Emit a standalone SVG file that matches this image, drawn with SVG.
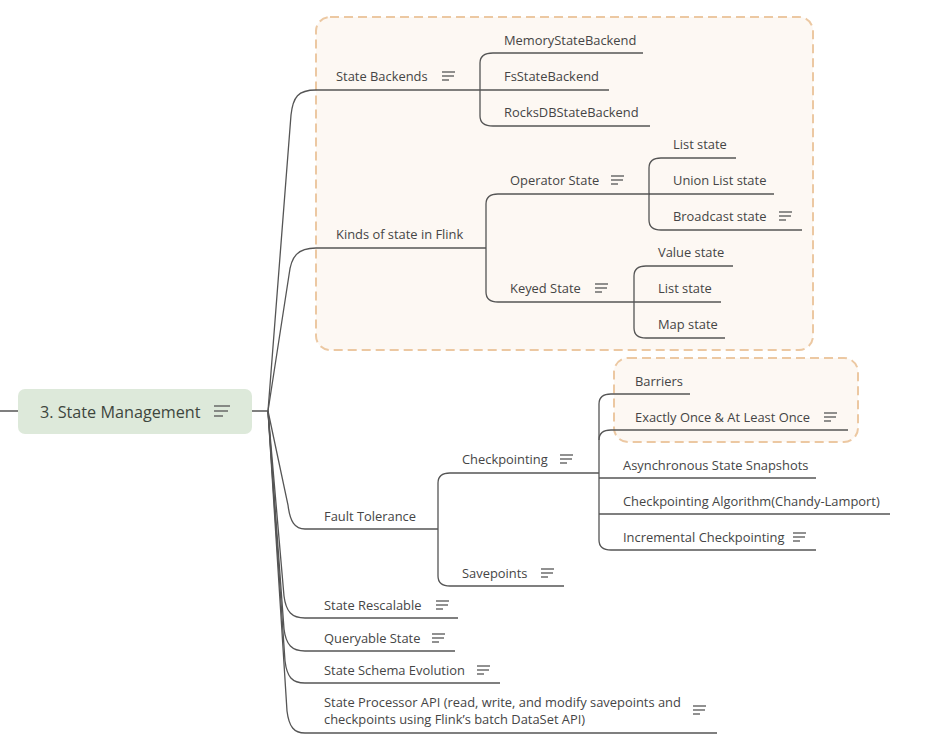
<svg xmlns="http://www.w3.org/2000/svg" xmlns:xlink="http://www.w3.org/1999/xlink" width="941" height="749" viewBox="0 0 941 749">
<defs>
<style>
.t{font-family:"Open Sans","DejaVu Sans",sans-serif;font-size:12.9px;fill:#454545}
.c{fill:none;stroke:#555;stroke-width:1.3}
.box{fill:#fdf8f3;stroke:#ecc8a2;stroke-width:2;stroke-dasharray:9 5}
.ic{stroke:#555;stroke-width:1.3}
</style>
<g id="note" class="ic"><line x1="0" y1="0" x2="13" y2="0"/><line x1="0" y1="4" x2="12" y2="4"/><line x1="0" y1="8" x2="7" y2="8"/></g>
</defs>
<rect width="941" height="749" fill="#ffffff"/>
<rect class="box" x="316" y="17" width="497" height="333" rx="14"/>
<rect class="box" x="614" y="358" width="244" height="84" rx="14"/>
<g id="connectors">
<path class="c" d="M0,411 L18,411 M252,411 L268,411"/>
<path class="c" d="M268,411 L291,115 C293,97 298,90 316,90 L480,90"/>
<path class="c" d="M268,411 L289,275 C291,256 298,248 316,248 L486,248"/>
<path class="c" d="M268,411 L288,505 C290,522 295,529 305,529 L438,529"/>
<path class="c" d="M268,411 L284,596 C286,612 292,618 305,618 L458,618"/>
<path class="c" d="M268,411 L284,629 C286,645 292,651 305,651 L455,651"/>
<path class="c" d="M268,411 L285,661 C287,677 292,683 305,683 L500,683"/>
<path class="c" d="M268,411 L287,711 C289,727 294,733 305,733 L717,733"/>
<path class="c" d="M493,53 Q480,53 480,63 L480,116 Q480,126 493,126"/>
<path class="c" d="M493,53 L643,53 M480,90 L609,90 M493,126 L650,126"/>
<path class="c" d="M498,194 Q486,194 486,204 L486,292 Q486,302 498,302"/>
<path class="c" d="M498,194 L650,194 M498,302 L634,302"/>
<path class="c" d="M661,158 Q649,158 649,168 L649,220 Q649,230 661,230"/>
<path class="c" d="M661,158 L736,158 M649,194 L774,194 M661,230 L802,230"/>
<path class="c" d="M646,266 Q634,266 634,276 L634,328 Q634,338 646,338"/>
<path class="c" d="M646,266 L733,266 M634,302 L721,302 M646,338 L725,338"/>
<path class="c" d="M450,473 Q438,473 438,483 L438,576 Q438,586 450,586"/>
<path class="c" d="M450,473 L599,473 M450,586 L564,586"/>
<path class="c" d="M611,394 Q599,394 599,404 L599,540 Q599,550 611,550"/>
<path class="c" d="M599,440 Q599,430 611,430"/>
<path class="c" d="M611,394 L690,394 M611,430 L848,430 M599,478 L816,478 M599,514 L890,514 M611,550 L816,550"/>
</g>
<g id="root">
<rect x="18" y="389" width="234" height="45" rx="7" fill="#dde9da"/>
<text x="40" y="418" style="font-family:'Open Sans','DejaVu Sans',sans-serif;font-size:16.2px;fill:#3e463e">3. State Management</text>
<g class="ic"><line x1="214" y1="406" x2="230" y2="406"/><line x1="214" y1="411" x2="228" y2="411"/><line x1="214" y1="416" x2="223" y2="416"/></g>
</g>
<g id="state-backends"><text class="t" x="336" y="81">State Backends</text><use href="#note" x="442" y="72"/></g>
<g id="memory"><text class="t" x="504" y="45">MemoryStateBackend</text></g>
<g id="fs"><text class="t" x="504" y="81">FsStateBackend</text></g>
<g id="rocks"><text class="t" x="504" y="117">RocksDBStateBackend</text></g>
<g id="kinds"><text class="t" x="336" y="239">Kinds of state in Flink</text></g>
<g id="operator"><text class="t" x="510" y="185">Operator State</text><use href="#note" x="611" y="176"/></g>
<g id="keyed"><text class="t" x="510" y="293">Keyed State</text><use href="#note" x="595" y="284"/></g>
<g id="op-list"><text class="t" x="673" y="149">List state</text></g>
<g id="op-union"><text class="t" x="673" y="185">Union List state</text></g>
<g id="op-broadcast"><text class="t" x="673" y="221">Broadcast state</text><use href="#note" x="779" y="212"/></g>
<g id="k-value"><text class="t" x="658" y="257">Value state</text></g>
<g id="k-list"><text class="t" x="658" y="293">List state</text></g>
<g id="k-map"><text class="t" x="658" y="329">Map state</text></g>
<g id="fault"><text class="t" x="324" y="521">Fault Tolerance</text></g>
<g id="checkpointing"><text class="t" x="462" y="464">Checkpointing</text><use href="#note" x="560" y="455"/></g>
<g id="savepoints"><text class="t" x="462" y="578">Savepoints</text><use href="#note" x="541" y="569"/></g>
<g id="barriers"><text class="t" x="635" y="386">Barriers</text></g>
<g id="exactly"><text class="t" x="635" y="422">Exactly Once &amp; At Least Once</text><use href="#note" x="824" y="413"/></g>
<g id="async"><text class="t" x="623" y="470">Asynchronous State Snapshots</text></g>
<g id="algorithm"><text class="t" x="623" y="506">Checkpointing Algorithm(Chandy-Lamport)</text></g>
<g id="incremental"><text class="t" x="623" y="542">Incremental Checkpointing</text><use href="#note" x="793" y="533"/></g>
<g id="rescalable"><text class="t" x="324" y="610">State Rescalable</text><use href="#note" x="436" y="601"/></g>
<g id="queryable"><text class="t" x="324" y="643">Queryable State</text><use href="#note" x="432" y="634"/></g>
<g id="schema"><text class="t" x="324" y="675">State Schema Evolution</text><use href="#note" x="477" y="666"/></g>
<g id="processor"><text class="t" x="324" y="707">State Processor API (read, write, and modify savepoints and</text><text class="t" x="324" y="724">checkpoints using Flink’s batch DataSet API)</text><use href="#note" x="693" y="706"/></g>
</svg>
